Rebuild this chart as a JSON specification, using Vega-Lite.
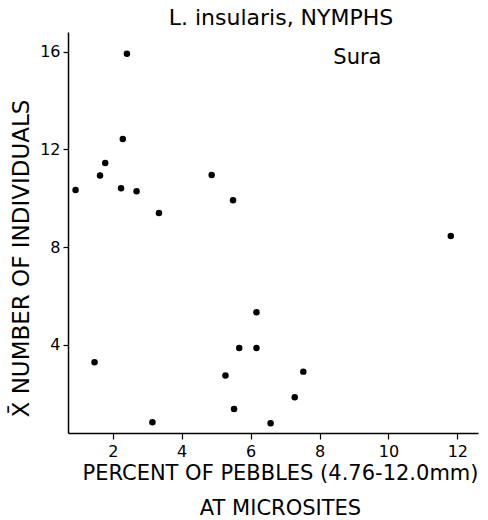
{
  "$schema": "https://vega.github.io/schema/vega-lite/v6.json",
  "autosize": {"type": "none"},
  "padding": {"left": 68, "top": 32, "right": 10, "bottom": 87},
  "width": 410,
  "height": 401,
  "background": "white",
  "config": {
    "font": "DejaVu Sans",
    "view": {"stroke": null},
    "axis": {"grid": false, "domainColor": "black", "domainWidth": 1.5, "tickColor": "black", "tickWidth": 1.2, "labelColor": "black", "titleColor": "black", "labelFont": "DejaVu Sans", "titleFont": "DejaVu Sans", "titleFontWeight": "normal"}
  },
  "title": {"text": "L. insularis, NYMPHS", "fontSize": 22, "fontWeight": "normal", "font": "DejaVu Sans", "color": "black", "anchor": "middle", "dx": 8, "offset": 2},
  "datasets": {
    "pts": [
      {"pebbles": 0.92, "individuals": 10.34},
      {"pebbles": 1.63, "individuals": 10.93},
      {"pebbles": 1.78, "individuals": 11.44},
      {"pebbles": 2.29, "individuals": 12.42},
      {"pebbles": 2.24, "individuals": 10.41},
      {"pebbles": 2.69, "individuals": 10.29},
      {"pebbles": 3.34, "individuals": 9.40},
      {"pebbles": 4.87, "individuals": 10.95},
      {"pebbles": 5.49, "individuals": 9.92},
      {"pebbles": 2.41, "individuals": 15.91},
      {"pebbles": 11.81, "individuals": 8.46},
      {"pebbles": 1.47, "individuals": 3.29},
      {"pebbles": 3.15, "individuals": 0.84},
      {"pebbles": 6.17, "individuals": 5.34},
      {"pebbles": 5.67, "individuals": 3.88},
      {"pebbles": 6.17, "individuals": 3.88},
      {"pebbles": 5.27, "individuals": 2.75},
      {"pebbles": 7.53, "individuals": 2.91},
      {"pebbles": 7.28, "individuals": 1.86},
      {"pebbles": 5.52, "individuals": 1.38},
      {"pebbles": 6.58, "individuals": 0.80}
    ],
    "labels": [
      {"pebbles": 9.1, "individuals": 15.74, "label": "Sura"}
    ]
  },
  "layer": [
    {
      "data": {"name": "pts"},
      "mark": {"type": "point", "filled": true, "color": "black", "opacity": 1, "size": 42},
      "encoding": {
        "x": {"field": "pebbles", "type": "quantitative",
          "scale": {"domain": [0.7, 12.6], "nice": false, "zero": false},
          "axis": {"values": [2, 4, 6, 8, 10, 12], "labelFontSize": 16, "tickSize": 6, "labelPadding": 4,
            "title": ["PERCENT OF PEBBLES (4.76-12.0mm)", "AT MICROSITES"], "titleFontSize": 21, "titleLineHeight": 35, "titlePadding": 3, "titleX": 212}},
        "y": {"field": "individuals", "type": "quantitative",
          "scale": {"domain": [0.4, 16.8], "nice": false, "zero": false},
          "axis": {"values": [4, 8, 12, 16], "labelFontSize": 16, "tickSize": 5, "labelPadding": 3,
            "title": "X̄ NUMBER OF INDIVIDUALS", "titleFontSize": 23, "titlePadding": 6, "titleY": 226}}
      }
    },
    {
      "data": {"name": "labels"},
      "mark": {"type": "text", "fontSize": 21, "color": "black", "font": "DejaVu Sans", "align": "center", "baseline": "middle"},
      "encoding": {
        "x": {"field": "pebbles", "type": "quantitative"},
        "y": {"field": "individuals", "type": "quantitative"},
        "text": {"field": "label"}
      }
    }
  ]
}
